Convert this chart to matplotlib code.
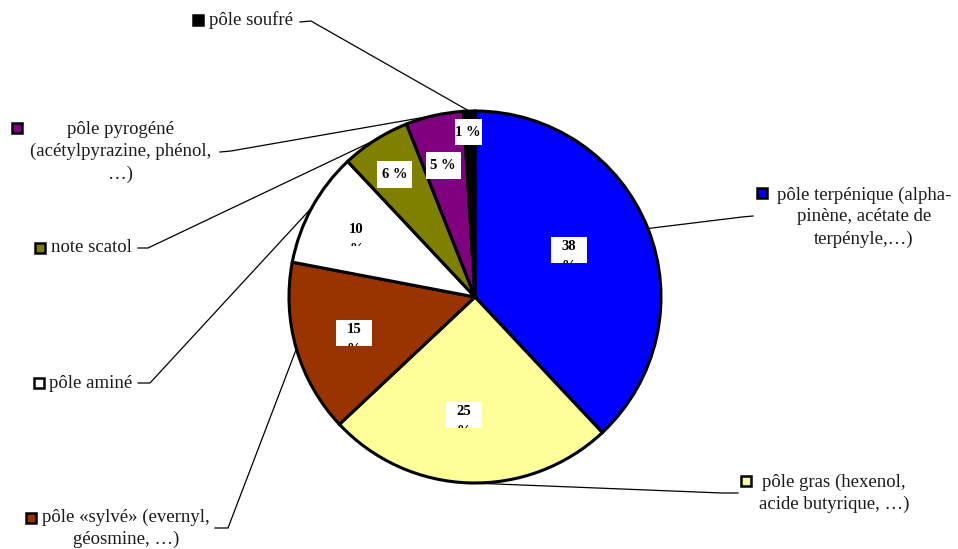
import numpy as np
import matplotlib.pyplot as plt
from matplotlib.patches import Rectangle
from matplotlib.transforms import Bbox

# data (clockwise from the top)
labels = ['pôle terpénique (alpha-\npinène, acétate de\nterpényle,…)',
          'pôle gras (hexenol,\nacide butyrique, …)',
          'pôle «sylvé» (evernyl,\ngéosmine, …)',
          'pôle aminé',
          'note scatol',
          'pôle pyrogéné\n(acétylpyrazine, phénol,\n…)',
          'pôle soufré']
values = [38, 25, 15, 10, 6, 5, 1]
colors = ['#0000FF', '#FFFF99', '#993300', '#FFFFFF', '#808000', '#800080', '#000000']

# layout in pixel coordinates (y downwards)
cx, cy, R = 475, 297, 186
pct_r = [0.57, 0.626, 0.676, 0.73, 0.785, 0.73, 0.887]
pct_shift = [5.9, -3.6, -0.5, -0.5, 0.9, 1.0, 0.6]   # degrees, visual ccw
text_pos = [(864, 217), (834, 493), (126, 528), (91, 383), (91, 248), (121, 152), (251, 20)]
marker_pos = [(762, 193), (746, 481), (31, 518), (39, 383), (40, 248), (17, 128), (198, 20)]
leader_start = [(753, 216), (738, 493), (215, 528), (138, 383), (138, 248), (220, 152), (300, 22)]
leader_knee = [(742, 217), (722, 493), (228, 528), (150, 383), (148, 248), (231, 151), (311, 21)]

plt.rcParams['font.family'] = ['Liberation Serif', 'DejaVu Serif']

fig = plt.figure(figsize=(9.58, 5.49), dpi=100)
ax = fig.add_axes([0, 0, 1, 1])

# y axis is inverted: startangle -90 + counterclock gives top start, visually clockwise
wedges, _ = ax.pie(values, colors=colors, startangle=-90, counterclock=True,
                   center=(cx, cy), radius=R, frame=True,
                   wedgeprops=dict(edgecolor='black', linewidth=2.2))
ax.set_xlim(0, 958)
ax.set_ylim(549, 0)
ax.set_aspect('equal')
ax.axis('off')

for i, w in enumerate(wedges):
    mid = np.deg2rad((w.theta1 + w.theta2) / 2)
    lab = mid - np.deg2rad(pct_shift[i])
    # inner value label in a white box
    lx = cx + pct_r[i] * R * np.cos(lab)
    ly = cy + pct_r[i] * R * np.sin(lab)
    if values[i] >= 10:
        bw, bh = 36, 26
        x0, y0 = lx - bw / 2, ly - 11
        ax.add_patch(Rectangle((x0, y0), bw, bh, facecolor='white',
                               edgecolor='none', zorder=5))
        t = ax.text(lx, ly - 8, f'{values[i]}\n%', ha='center', va='top',
                    fontsize=10.5, fontweight='bold', linespacing=1.7, zorder=6)
        # the box is too small for the "%" line, so it gets cut off
        p = ax.transData.transform([(x0, y0), (x0 + bw, y0 + bh)])
        t.set_clip_on(True)
        t.set_clip_box(Bbox.from_extents(p[:, 0].min(), p[:, 1].min(),
                                         p[:, 0].max(), p[:, 1].max()))
    else:
        bw, bh = (27, 26) if values[i] == 1 else (35, 27)
        ax.add_patch(Rectangle((lx - bw / 2, ly - bh / 2), bw, bh, facecolor='white',
                               edgecolor='none', zorder=5))
        ax.text(lx, ly, f'{values[i]} %', ha='center', va='center',
                fontsize=10.5, fontweight='bold', zorder=6)

    # leader line to the slice edge
    ex = cx + R * np.cos(mid)
    ey = cy + R * np.sin(mid)
    xs = [leader_start[i][0], leader_knee[i][0], ex]
    ys = [leader_start[i][1], leader_knee[i][1], ey]
    ax.plot(xs, ys, color='black', lw=0.9, zorder=3)

    # outer label with legend-like marker
    ax.text(text_pos[i][0], text_pos[i][1], labels[i], ha='center', va='center',
            multialignment='center', fontsize=13.5, linespacing=1.37, color='#1a1a1a')
    ax.plot(marker_pos[i][0], marker_pos[i][1], marker='s', markersize=7.5,
            markerfacecolor=colors[i], markeredgecolor='black', markeredgewidth=1.8)

fig.savefig('out.png', dpi=100)
